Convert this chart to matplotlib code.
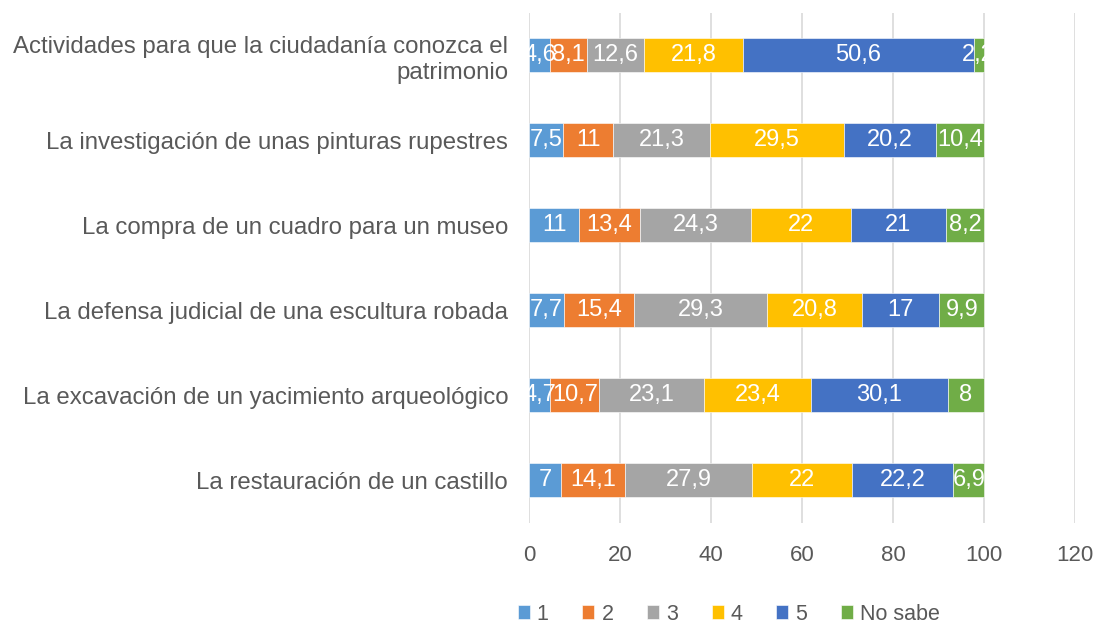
import numpy as np
import matplotlib.pyplot as plt

plt.rcParams['font.family'] = ['Liberation Sans', 'DejaVu Sans']

categories = ['Actividades para que la ciudadanía conozca el\npatrimonio',
              'La investigación de unas pinturas rupestres',
              'La compra de un cuadro para un museo',
              'La defensa judicial de una escultura robada',
              'La excavación de un yacimiento arqueológico',
              'La restauración de un castillo']
series = ['1', '2', '3', '4', '5', 'No sabe']
v1 = [4.6, 7.5, 11, 7.7, 4.7, 7]
v2 = [8.1, 11, 13.4, 15.4, 10.7, 14.1]
v3 = [12.6, 21.3, 24.3, 29.3, 23.1, 27.9]
v4 = [21.8, 29.5, 22, 20.8, 23.4, 22]
v5 = [50.6, 20.2, 21, 17, 30.1, 22.2]
vns = [2.2, 10.4, 8.2, 9.9, 8, 6.9]
colors = ['#5B9BD5', '#ED7D31', '#A5A5A5', '#FFC000', '#4472C4', '#70AD47']
xticks = [0, 20, 40, 60, 80, 100, 120]

data = [v1, v2, v3, v4, v5, vns]
txt = '#595959'

fig = plt.figure(figsize=(11.01, 6.26), dpi=100)
ax = fig.add_axes([0.4805, 0.1653, 0.4959, 0.8147])

y = np.arange(len(categories))[::-1]
left = np.zeros(len(categories))
for name, vals, c in zip(series, data, colors):
    vals = np.array(vals, dtype=float)
    ax.barh(y, vals, left=left, height=0.4, color=c, label=name,
            edgecolor='white', linewidth=0.4, zorder=3)
    for yi, l, v in zip(y, left, vals):
        ax.text(l + v / 2, yi, f'{v:g}'.replace('.', ','), ha='center', va='center',
                color='white', fontsize=17, zorder=4)
    left += vals

ax.set_xlim(0, 120)
ax.set_ylim(-0.5, 5.5)
ax.set_xticks(xticks)
ax.set_yticks(y)
ax.set_yticklabels(categories, fontsize=17.3, color=txt, linespacing=1.25)
ax.tick_params(axis='y', length=0, pad=15)
ax.tick_params(axis='x', length=0, pad=16, labelsize=16, labelcolor=txt)
ax.grid(axis='x', color='#D9D9D9', linewidth=1.2, zorder=0)
for s in ax.spines.values():
    s.set_visible(False)

leg = fig.legend(loc='lower center', bbox_to_anchor=(0.662, -0.015), ncol=6, frameon=False,
                 fontsize=15.5, handlelength=0.56, handleheight=0.56, handletextpad=0.33,
                 columnspacing=1.56, borderpad=0, labelcolor=txt)

fig.savefig('out.png', dpi=100)
